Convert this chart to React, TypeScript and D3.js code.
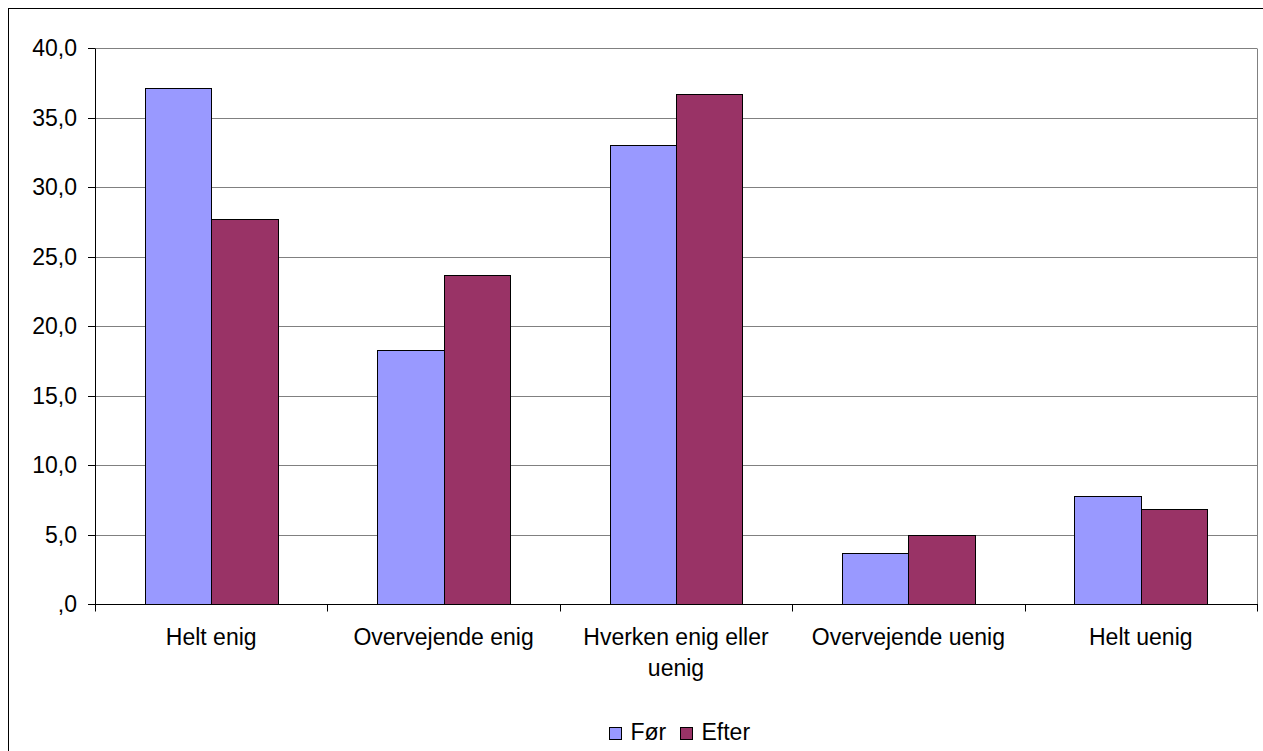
import React from "react";
import * as d3 from "d3";

const categories: string[][] = [
  ["Helt enig"],
  ["Overvejende enig"],
  ["Hverken enig eller", "uenig"],
  ["Overvejende uenig"],
  ["Helt uenig"],
];
const seriesNames = ["Før", "Efter"];
const forValues = [37.1, 18.3, 33.0, 3.7, 7.8];
const efterValues = [27.7, 23.7, 36.7, 5.0, 6.8];
const tickValues = [0, 5, 10, 15, 20, 25, 30, 35, 40];
const tickLabels = [",0", "5,0", "10,0", "15,0", "20,0", "25,0", "30,0", "35,0", "40,0"];

const colors = ["#9999FF", "#993366"];
const FONT = "'Liberation Sans', Arial, sans-serif";
const FS = 23;

export default function App() {
  const W = 1263;
  const H = 751;
  const left = 95;
  const right = 1257;
  const top = 48;
  const bottom = 604;

  const x = d3
    .scaleBand<number>()
    .domain(categories.map((_, i) => i))
    .range([left, right])
    .paddingInner(0)
    .paddingOuter(0);
  const y = d3.scaleLinear().domain([0, 40]).range([bottom, top]);

  const bw = x.bandwidth() / 3.5;
  const series = [forValues, efterValues];
  const px = (v: number) => Math.round(v) + 0.5;

  return (
    <svg
      width={W}
      height={H}
      style={{ position: "absolute", left: 0, top: 0, background: "#fff" }}
      fontFamily={FONT}
    >
      <rect x={0} y={0} width={W} height={H} fill="#fff" />
      {/* outer chart border (extends beyond viewport) */}
      <rect x={8.5} y={8.5} width={W + 50} height={H + 50} fill="none" stroke="#000" strokeWidth={1} />

      {/* gridlines */}
      {tickValues.slice(1).map((t) => (
        <line key={"g" + t} x1={left} x2={right} y1={px(y(t))} y2={px(y(t))} stroke="#808080" strokeWidth={1} />
      ))}
      {/* plot area right border */}
      <line x1={px(right)} x2={px(right)} y1={px(top)} y2={px(bottom)} stroke="#808080" strokeWidth={1} />

      {/* bars */}
      {series.map((vals, s) =>
        vals.map((v, i) => {
          const x0 = px((x(i) as number) + 0.75 * bw + s * bw);
          const x1 = px((x(i) as number) + 0.75 * bw + (s + 1) * bw);
          const yt = px(y(v));
          const yb = px(y(0));
          return (
            <rect
              key={s + "-" + i}
              x={x0}
              y={yt}
              width={x1 - x0}
              height={yb - yt}
              fill={colors[s]}
              stroke="#000"
              strokeWidth={1}
            />
          );
        })
      )}

      {/* y axis */}
      <line x1={px(left)} x2={px(left)} y1={px(top)} y2={px(bottom) + 7} stroke="#000" strokeWidth={1} />
      {tickValues.map((t, i) => (
        <g key={"yt" + t}>
          <line x1={left - 7} x2={left} y1={px(y(t))} y2={px(y(t))} stroke="#000" strokeWidth={1} />
          <text x={77} y={y(t)} dy="0.36em" textAnchor="end" fontSize={FS} fill="#000">
            {tickLabels[i]}
          </text>
        </g>
      ))}

      {/* x axis */}
      <line x1={left} x2={right + 1} y1={px(bottom)} y2={px(bottom)} stroke="#000" strokeWidth={1} />
      {categories.map((_, i) => (
        <line
          key={"xt" + i}
          x1={px((x(i) as number) + x.bandwidth())}
          x2={px((x(i) as number) + x.bandwidth())}
          y1={px(bottom)}
          y2={px(bottom) + 7}
          stroke="#000"
          strokeWidth={1}
        />
      ))}
      {categories.map((lines, i) => (
        <text
          key={"xl" + i}
          x={(x(i) as number) + x.bandwidth() / 2}
          y={645}
          textAnchor="middle"
          fontSize={FS}
          fill="#000"
        >
          {lines.map((l, j) => (
            <tspan key={j} x={(x(i) as number) + x.bandwidth() / 2} dy={j === 0 ? 0 : 30.5}>
              {l}
            </tspan>
          ))}
        </text>
      ))}

      {/* legend */}
      {seriesNames.map((n, s) => {
        const lx = s === 0 ? 609.5 : 680.5;
        return (
          <g key={"lg" + s}>
            <rect x={lx} y={727.5} width={12} height={12} fill={colors[s]} stroke="#000" strokeWidth={1} />
            <text x={lx + 21} y={739.5} fontSize={FS} fill="#000">
              {n}
            </text>
          </g>
        );
      })}
    </svg>
  );
}
